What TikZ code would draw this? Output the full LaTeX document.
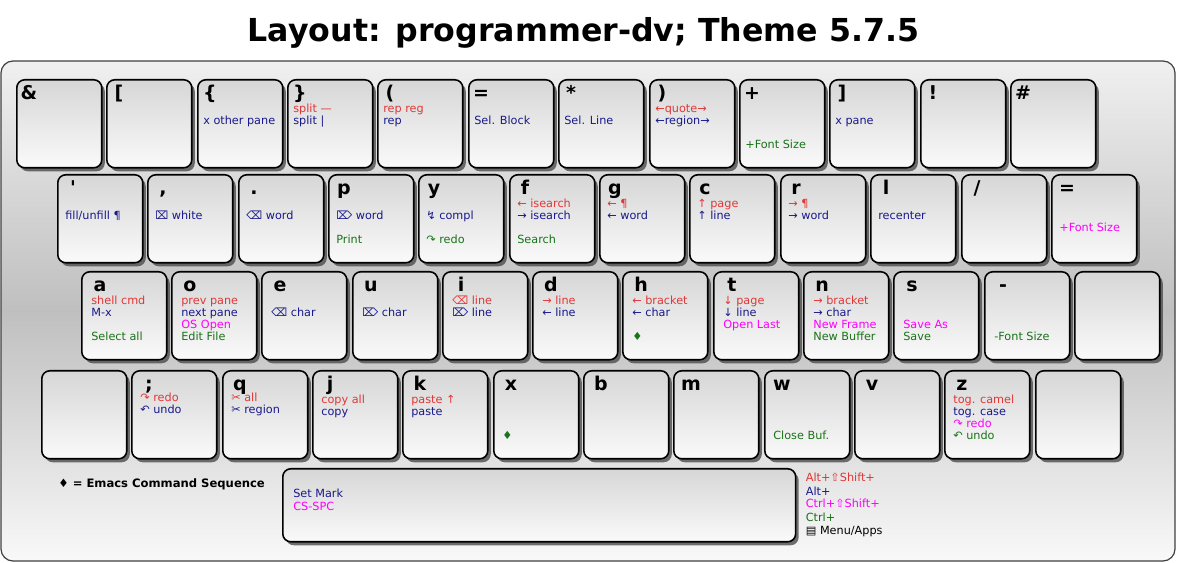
\documentclass[tikz,border=0pt]{standalone}
\usepackage{fontspec}
\setmainfont{DejaVu Sans}
\usetikzlibrary{calc,shadows}
\definecolor{keyred}{RGB}{225,55,55}
\definecolor{keyblue}{RGB}{25,25,140}
\definecolor{keymag}{RGB}{255,0,255}
\definecolor{keygreen}{RGB}{25,115,25}

\begin{document}
\begin{tikzpicture}[x=0.02cm,y=-0.02cm,
  keycase/.style={draw=black!75,line width=0.7pt,rounded corners=0.24cm,top color=gray!12,bottom color=gray!5,middle color=gray!50},
  key/.style={draw=black,line width=0.9pt,rounded corners=0.16cm,top color=gray!32,bottom color=gray!4,minimum width=1.7cm,minimum height=1.76cm,anchor=north west,inner sep=0pt,drop shadow={shadow xshift=0.06cm,shadow yshift=-0.07cm,fill=black!70,opacity=0.8}},
  keycap/.style={anchor=base,inner sep=0pt,font=\fontsize{10.8}{12}\selectfont\bfseries},
  lbl/.style={anchor=base west,inner sep=0pt,font=\fontsize{6.4}{7.5}\selectfont},
  title/.style={anchor=base,inner sep=0pt,font=\fontsize{18}{20}\selectfont\bfseries}]
\useasboundingbox (0,0) rectangle (1177,563);
\node[title] (title) at (583.5,42) {Layout: programmer-dv; Theme 5.7.5};
\draw[keycase] (1,61) rectangle (1175,561);

\node[key] (k1) at (16,79) {};
\node[keycap] (c1) at ($(k1.north west)+(13,21)$) {\&};
\node[key] (k2) at (106,79) {};
\node[keycap] (c2) at ($(k2.north west)+(13,21)$) {[};
\node[key] (k3) at (197,79) {};
\node[keycap] (c3) at ($(k3.north west)+(13,21)$) {\{};
\node[lbl,text=keyblue] (k3b) at ($(k3.north west)+(6,46)$) {x other pane};
\node[key] (k4) at (287,79) {};
\node[keycap] (c4) at ($(k4.north west)+(13,21)$) {\}};
\node[lbl,text=keyred] (k4r) at ($(k4.north west)+(6,34)$) {split —};
\node[lbl,text=keyblue] (k4b) at ($(k4.north west)+(6,46)$) {split |};
\node[key] (k5) at (377,79) {};
\node[keycap] (c5) at ($(k5.north west)+(13,21)$) {(};
\node[lbl,text=keyred] (k5r) at ($(k5.north west)+(6,34)$) {rep reg};
\node[lbl,text=keyblue] (k5b) at ($(k5.north west)+(6,46)$) {rep};
\node[key] (k6) at (468,79) {};
\node[keycap] (c6) at ($(k6.north west)+(13,21)$) {=};
\node[lbl,text=keyblue] (k6b) at ($(k6.north west)+(6,46)$) {Sel. Block};
\node[key] (k7) at (558,79) {};
\node[keycap] (c7) at ($(k7.north west)+(13,21)$) {*};
\node[lbl,text=keyblue] (k7b) at ($(k7.north west)+(6,46)$) {Sel. Line};
\node[key] (k8) at (649,79) {};
\node[keycap] (c8) at ($(k8.north west)+(13,21)$) {)};
\node[lbl,text=keyred] (k8r) at ($(k8.north west)+(6,34)$) {←quote→};
\node[lbl,text=keyblue] (k8b) at ($(k8.north west)+(6,46)$) {←region→};
\node[key] (k9) at (739,79) {};
\node[keycap] (c9) at ($(k9.north west)+(13,21)$) {+};
\node[lbl,text=keygreen] (k9g) at ($(k9.north west)+(6,70)$) {+Font Size};
\node[key] (k10) at (829,79) {};
\node[keycap] (c10) at ($(k10.north west)+(13,21)$) {]};
\node[lbl,text=keyblue] (k10b) at ($(k10.north west)+(6,46)$) {x pane};
\node[key] (k11) at (920,79) {};
\node[keycap] (c11) at ($(k11.north west)+(13,21)$) {!};
\node[key] (k12) at (1010,79) {};
\node[keycap] (c12) at ($(k12.north west)+(13,21)$) {\#};

\node[key] (k13) at (57,174) {};
\node[keycap] (c13) at ($(k13.north west)+(16,21)$) {\textquotesingle};
\node[lbl,text=keyblue] (k13b) at ($(k13.north west)+(8,46)$) {fill/unfill ¶};
\node[key] (k14) at (147,174) {};
\node[keycap] (c14) at ($(k14.north west)+(16,21)$) {,};
\node[lbl,text=keyblue] (k14b) at ($(k14.north west)+(8,46)$) {⌧ white};
\node[key] (k15) at (238,174) {};
\node[keycap] (c15) at ($(k15.north west)+(16,21)$) {.};
\node[lbl,text=keyblue] (k15b) at ($(k15.north west)+(8,46)$) {⌫ word};
\node[key] (k16) at (328,174) {};
\node[keycap] (c16) at ($(k16.north west)+(16,21)$) {p};
\node[lbl,text=keyblue] (k16b) at ($(k16.north west)+(8,46)$) {⌦ word};
\node[lbl,text=keygreen] (k16g) at ($(k16.north west)+(8,70)$) {Print};
\node[key] (k17) at (418,174) {};
\node[keycap] (c17) at ($(k17.north west)+(16,21)$) {y};
\node[lbl,text=keyblue] (k17b) at ($(k17.north west)+(8,46)$) {↯ compl};
\node[lbl,text=keygreen] (k17g) at ($(k17.north west)+(8,70)$) {↷ redo};
\node[key] (k18) at (509,174) {};
\node[keycap] (c18) at ($(k18.north west)+(16,21)$) {f};
\node[lbl,text=keyred] (k18r) at ($(k18.north west)+(8,34)$) {← isearch};
\node[lbl,text=keyblue] (k18b) at ($(k18.north west)+(8,46)$) {→ isearch};
\node[lbl,text=keygreen] (k18g) at ($(k18.north west)+(8,70)$) {Search};
\node[key] (k19) at (599,174) {};
\node[keycap] (c19) at ($(k19.north west)+(16,21)$) {g};
\node[lbl,text=keyred] (k19r) at ($(k19.north west)+(8,34)$) {← ¶};
\node[lbl,text=keyblue] (k19b) at ($(k19.north west)+(8,46)$) {← word};
\node[key] (k20) at (689,174) {};
\node[keycap] (c20) at ($(k20.north west)+(16,21)$) {c};
\node[lbl,text=keyred] (k20r) at ($(k20.north west)+(8,34)$) {↑ page};
\node[lbl,text=keyblue] (k20b) at ($(k20.north west)+(8,46)$) {↑ line};
\node[key] (k21) at (780,174) {};
\node[keycap] (c21) at ($(k21.north west)+(16,21)$) {r};
\node[lbl,text=keyred] (k21r) at ($(k21.north west)+(8,34)$) {→ ¶};
\node[lbl,text=keyblue] (k21b) at ($(k21.north west)+(8,46)$) {→ word};
\node[key] (k22) at (870,174) {};
\node[keycap] (c22) at ($(k22.north west)+(16,21)$) {l};
\node[lbl,text=keyblue] (k22b) at ($(k22.north west)+(8,46)$) {recenter};
\node[key] (k23) at (961,174) {};
\node[keycap] (c23) at ($(k23.north west)+(16,21)$) {/};
\node[key] (k24) at (1051,174) {};
\node[keycap] (c24) at ($(k24.north west)+(16,21)$) {=};
\node[lbl,text=keymag] (k24m) at ($(k24.north west)+(8,58)$) {+Font Size};

\node[key] (k25) at (81,271) {};
\node[keycap] (c25) at ($(k25.north west)+(19,21)$) {a};
\node[lbl,text=keyred] (k25r) at ($(k25.north west)+(10,34)$) {shell cmd};
\node[lbl,text=keyblue] (k25b) at ($(k25.north west)+(10,46)$) {M-x};
\node[lbl,text=keygreen] (k25g) at ($(k25.north west)+(10,70)$) {Select all};
\node[key] (k26) at (171,271) {};
\node[keycap] (c26) at ($(k26.north west)+(19,21)$) {o};
\node[lbl,text=keyred] (k26r) at ($(k26.north west)+(10,34)$) {prev pane};
\node[lbl,text=keyblue] (k26b) at ($(k26.north west)+(10,46)$) {next pane};
\node[lbl,text=keymag] (k26m) at ($(k26.north west)+(10,58)$) {OS Open};
\node[lbl,text=keygreen] (k26g) at ($(k26.north west)+(10,70)$) {Edit File};
\node[key] (k27) at (261,271) {};
\node[keycap] (c27) at ($(k27.north west)+(19,21)$) {e};
\node[lbl,text=keyblue] (k27b) at ($(k27.north west)+(10,46)$) {⌫ char};
\node[key] (k28) at (352,271) {};
\node[keycap] (c28) at ($(k28.north west)+(19,21)$) {u};
\node[lbl,text=keyblue] (k28b) at ($(k28.north west)+(10,46)$) {⌦ char};
\node[key] (k29) at (442,271) {};
\node[keycap] (c29) at ($(k29.north west)+(19,21)$) {i};
\node[lbl,text=keyred] (k29r) at ($(k29.north west)+(10,34)$) {⌫ line};
\node[lbl,text=keyblue] (k29b) at ($(k29.north west)+(10,46)$) {⌦ line};
\node[key] (k30) at (532,271) {};
\node[keycap] (c30) at ($(k30.north west)+(19,21)$) {d};
\node[lbl,text=keyred] (k30r) at ($(k30.north west)+(10,34)$) {→ line};
\node[lbl,text=keyblue] (k30b) at ($(k30.north west)+(10,46)$) {← line};
\node[key] (k31) at (622,271) {};
\node[keycap] (c31) at ($(k31.north west)+(19,21)$) {h};
\node[lbl,text=keyred] (k31r) at ($(k31.north west)+(10,34)$) {← bracket};
\node[lbl,text=keyblue] (k31b) at ($(k31.north west)+(10,46)$) {← char};
\node[lbl,text=keygreen] (k31g) at ($(k31.north west)+(10,70)$) {♦};
\node[key] (k32) at (713,271) {};
\node[keycap] (c32) at ($(k32.north west)+(19,21)$) {t};
\node[lbl,text=keyred] (k32r) at ($(k32.north west)+(10,34)$) {↓ page};
\node[lbl,text=keyblue] (k32b) at ($(k32.north west)+(10,46)$) {↓ line};
\node[lbl,text=keymag] (k32m) at ($(k32.north west)+(10,58)$) {Open Last};
\node[key] (k33) at (803,271) {};
\node[keycap] (c33) at ($(k33.north west)+(19,21)$) {n};
\node[lbl,text=keyred] (k33r) at ($(k33.north west)+(10,34)$) {→ bracket};
\node[lbl,text=keyblue] (k33b) at ($(k33.north west)+(10,46)$) {→ char};
\node[lbl,text=keymag] (k33m) at ($(k33.north west)+(10,58)$) {New Frame};
\node[lbl,text=keygreen] (k33g) at ($(k33.north west)+(10,70)$) {New Buffer};
\node[key] (k34) at (893,271) {};
\node[keycap] (c34) at ($(k34.north west)+(19,21)$) {s};
\node[lbl,text=keymag] (k34m) at ($(k34.north west)+(10,58)$) {Save As};
\node[lbl,text=keygreen] (k34g) at ($(k34.north west)+(10,70)$) {Save};
\node[key] (k35) at (984,271) {};
\node[keycap] (c35) at ($(k35.north west)+(19,21)$) {-};
\node[lbl,text=keygreen] (k35g) at ($(k35.north west)+(10,70)$) {-Font Size};
\node[key] (k36) at (1074,271) {};

\node[key] (k37) at (41,370) {};
\node[key] (k38) at (131,370) {};
\node[keycap] (c38) at ($(k38.north west)+(18,21)$) {;};
\node[lbl,text=keyred] (k38r) at ($(k38.north west)+(9,32)$) {↷ redo};
\node[lbl,text=keyblue] (k38b) at ($(k38.north west)+(9,44)$) {↶ undo};
\node[key] (k39) at (222,370) {};
\node[keycap] (c39) at ($(k39.north west)+(18,21)$) {q};
\node[lbl,text=keyred] (k39r) at ($(k39.north west)+(9,32)$) {✂ all};
\node[lbl,text=keyblue] (k39b) at ($(k39.north west)+(9,44)$) {✂ region};
\node[key] (k40) at (312,370) {};
\node[keycap] (c40) at ($(k40.north west)+(18,21)$) {j};
\node[lbl,text=keyred] (k40r) at ($(k40.north west)+(9,34)$) {copy all};
\node[lbl,text=keyblue] (k40b) at ($(k40.north west)+(9,46)$) {copy};
\node[key] (k41) at (402,370) {};
\node[keycap] (c41) at ($(k41.north west)+(18,21)$) {k};
\node[lbl,text=keyred] (k41r) at ($(k41.north west)+(9,34)$) {paste ↑};
\node[lbl,text=keyblue] (k41b) at ($(k41.north west)+(9,46)$) {paste};
\node[key] (k42) at (493,370) {};
\node[keycap] (c42) at ($(k42.north west)+(18,21)$) {x};
\node[lbl,text=keygreen] (k42g) at ($(k42.north west)+(9,70)$) {♦};
\node[key] (k43) at (583,370) {};
\node[keycap] (c43) at ($(k43.north west)+(18,21)$) {b};
\node[key] (k44) at (673,370) {};
\node[keycap] (c44) at ($(k44.north west)+(18,21)$) {m};
\node[key] (k45) at (764,370) {};
\node[keycap] (c45) at ($(k45.north west)+(18,21)$) {w};
\node[lbl,text=keygreen] (k45g) at ($(k45.north west)+(9,70)$) {Close Buf.};
\node[key] (k46) at (854,370) {};
\node[keycap] (c46) at ($(k46.north west)+(18,21)$) {v};
\node[key] (k47) at (944,370) {};
\node[keycap] (c47) at ($(k47.north west)+(18,21)$) {z};
\node[lbl,text=keyred] (k47r) at ($(k47.north west)+(9,34)$) {tog. camel};
\node[lbl,text=keyblue] (k47b) at ($(k47.north west)+(9,46)$) {tog. case};
\node[lbl,text=keymag] (k47m) at ($(k47.north west)+(9,58)$) {↷ redo};
\node[lbl,text=keygreen] (k47g) at ($(k47.north west)+(9,70)$) {↶ undo};
\node[key] (k48) at (1035,370) {};

\node[key,minimum width=10.26cm,minimum height=1.46cm] (k49) at (282,468) {};
\node[lbl,text=keyblue] (k49b) at ($(k49.north west)+(11,30)$) {Set Mark};
\node[lbl,text=keymag] (k49m) at ($(k49.north west)+(11,43)$) {CS-SPC};

\node[lbl,font=\fontsize{6.6}{7.5}\selectfont\bfseries] (legend) at (58,488) {♦ = Emacs Command Sequence};
\node[lbl,text=keyred] (mod1) at ($(k49.north east)+(9,14)$) {Alt+⇧Shift+};
\node[lbl,text=keyblue] (mod2) at ($(k49.north east)+(9,28)$) {Alt+};
\node[lbl,text=keymag] (mod3) at ($(k49.north east)+(9,40)$) {Ctrl+⇧Shift+};
\node[lbl,text=keygreen] (mod4) at ($(k49.north east)+(9,54)$) {Ctrl+};
\node[lbl] (mod5) at ($(k49.north east)+(9,67)$) {▤ Menu/Apps};
\end{tikzpicture}
\end{document}
